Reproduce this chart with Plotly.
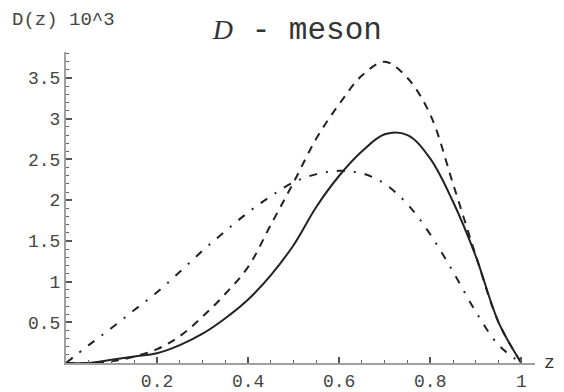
import plotly.graph_objects as go

z = [0, 0.05, 0.1, 0.15, 0.2, 0.25, 0.3, 0.35, 0.4, 0.45, 0.5,
     0.55, 0.6, 0.65, 0.7, 0.75, 0.8, 0.85, 0.9, 0.95, 1.0]

# D(z) * 10^3
d_pelna = [0, 0.0, 0.04, 0.08, 0.12, 0.22, 0.36, 0.55, 0.78, 1.08, 1.45,
           1.92, 2.3, 2.6, 2.81, 2.8, 2.51, 1.98, 1.31, 0.5, 0]
d_kreski = [0, 0.0, 0.02, 0.08, 0.17, 0.33, 0.57, 0.85, 1.18, 1.7, 2.22,
            2.76, 3.18, 3.53, 3.7, 3.5, 3.05, 2.2, 1.32, 0.5, 0]
d_kropki = [0, 0.22, 0.43, 0.65, 0.87, 1.12, 1.38, 1.62, 1.85, 2.05, 2.22,
            2.32, 2.36, 2.33, 2.2, 1.95, 1.58, 1.12, 0.63, 0.22, 0]

x_ticki = [0.2, 0.4, 0.6, 0.8, 1]
x_opisy = ['0.2', '0.4', '0.6', '0.8', '1']
y_ticki = [0.5, 1, 1.5, 2, 2.5, 3, 3.5]
y_opisy = ['0.5', '1', '1.5', '2', '2.5', '3', '3.5']

mono = 'Liberation Mono'
kolor = '#222222'

fig = go.Figure()
fig.add_scatter(x=z, y=d_kropki, mode='lines', line_shape='spline',
                line=dict(color=kolor, width=2, dash='8px,9px,2px,9px'))
fig.add_scatter(x=z, y=d_kreski, mode='lines', line_shape='spline',
                line=dict(color=kolor, width=2, dash='8px,7px'))
fig.add_scatter(x=z, y=d_pelna, mode='lines', line_shape='spline',
                line=dict(color=kolor, width=2))

os_styl = dict(showgrid=False, zeroline=False, showline=True, linecolor='#a0a0a0',
               linewidth=2, ticks='inside', ticklen=6, tickwidth=1.5, tickcolor='#555555',
               automargin=False,
               tickfont=dict(family=mono, size=18, color='#444444'))

fig.update_xaxes(range=[0, 1.03], tickmode='array', tickvals=x_ticki, ticktext=x_opisy,
                 minor=dict(tickmode='linear', tick0=0, dtick=0.05, ticks='inside',
                            ticklen=3, tickwidth=1, tickcolor='#666666'),
                 **os_styl)
fig.update_yaxes(range=[0, 3.82], tickmode='array', tickvals=y_ticki, ticktext=y_opisy,
                 minor=dict(tickmode='linear', tick0=0, dtick=0.1, ticks='inside',
                            ticklen=3, tickwidth=1, tickcolor='#666666'),
                 **os_styl)

# strona ma margines 8px, wiec wszystko przesuniete o 8 w lewo/gore
fig.update_layout(
    width=564, height=392,
    margin=dict(l=58, r=37, t=44, b=37),
    plot_bgcolor='white', paper_bgcolor='white',
    showlegend=False,
    title=dict(text="<span style='font-family:Liberation Serif;font-size:28px'><i>D</i></span> - meson",
               x=0.513, xanchor='center', y=0.949, yanchor='middle',
               font=dict(family=mono, size=31, color='#333333')),
)
fig.add_annotation(text='D(z) 10^3', xref='paper', yref='paper', x=-0.12, y=1.103,
                   xanchor='left', yanchor='middle', showarrow=False,
                   font=dict(family=mono, size=19, color='#444444'))
fig.add_annotation(text='z', xref='paper', yref='paper', x=1.03, y=0,
                   xanchor='center', yanchor='middle', showarrow=False,
                   font=dict(family=mono, size=18, color='#333333'))

fig.write_html("out.html")
